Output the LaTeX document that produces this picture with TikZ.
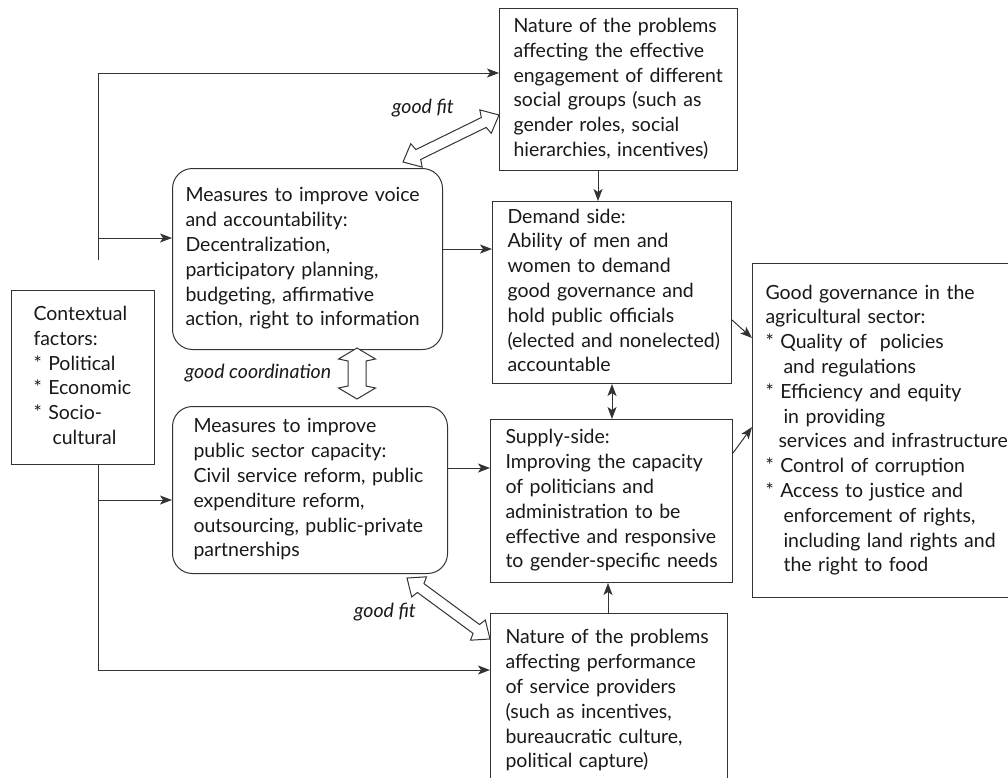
\documentclass[tikz,border=0pt]{standalone}
\usepackage{fontspec}
\setmainfont{Lato}
\usetikzlibrary{arrows.meta,calc}
\newcommand{\boxlines}[1]{\begin{tabular}{@{}l@{}}#1\end{tabular}}

\begin{document}
\begin{tikzpicture}[x=1pt,y=-1pt,
    every node/.style={font=\fontsize{19.5}{24.8}\selectfont, text=black!90},
    box/.style={draw=black!80, line width=1pt, anchor=north west, align=left, inner ysep=0pt},
    roundbox/.style={box, rounded corners=20pt},
    link/.style={draw=black!80, line width=1pt, -{Stealth[length=12pt,width=9pt,inset=3pt]}},
    hollow/.style={draw=black!80, line width=1pt, fill=white, line join=miter},
    fitlabel/.style={font=\fontsize{19.5}{24}\selectfont\itshape}]
\fill[white] (0,0) rectangle (1008,777);
\useasboundingbox (0,0) rectangle (1008,777);

% boxes
\node[box, inner xsep=22pt, text width=99pt, minimum height=174pt] (ctx) at (11,290)
  {\boxlines{Contextual\\factors:\\\relax* Political\\\relax* Economic\\\relax* Socio-\\\hspace*{19pt}cultural}};
\node[roundbox, inner xsep=13pt, text width=244pt, minimum height=181pt] (voice) at (172,168)
  {\boxlines{Measures to improve voice\\and accountability:\\Decentralization,\\participatory planning,\\budgeting, affirmative\\action, right to information}};
\node[roundbox, inner xsep=21pt, text width=233pt, minimum height=167pt] (public) at (172,406)
  {\boxlines{Measures to improve\\public sector capacity:\\Civil service reform, public\\expenditure reform,\\outsourcing, public-private\\partnerships}};
\node[box, inner xsep=14pt, text width=210pt, minimum height=162pt] (topnat) at (499,8)
  {\boxlines{Nature of the problems\\affecting the effective\\engagement of different\\social groups (such as\\gender roles, social\\hierarchies, incentives)}};
\node[box, inner xsep=15pt, text width=209pt, minimum height=182pt] (demand) at (492,201)
  {\boxlines{Demand side:\\Ability of men and\\women to demand\\good governance and\\hold public officials\\(elected and nonelected)\\accountable}};
\node[box, inner xsep=15pt, text width=212pt, minimum height=163pt] (supply) at (490,419)
  {\boxlines{Supply-side:\\Improving the capacity\\of politicians and\\administration to be\\effective and responsive\\to gender-specific needs}};
\node[box, inner xsep=15pt, inner ysep=13pt, text width=207pt] (botnat) at (490,613)
  {\boxlines{Nature of the problems\\affecting performance\\of service providers\\(such as incentives,\\bureaucratic culture,\\political capture)}};
\node[box, inner xsep=13pt, text width=254pt, minimum height=334pt] (gg) at (752,263)
  {\boxlines{Good governance in the\\agricultural sector:\\\relax* Quality of\ \ policies\\\hspace*{18pt}and regulations\\\relax* Efficiency and equity\\\hspace*{18pt}in providing\\\hspace*{13pt}services and infrastructure\\\relax* Control of corruption\\\relax* Access to justice and\\\hspace*{18pt}enforcement of rights,\\\hspace*{18pt}including land rights and\\\hspace*{18pt}the right to food}};

% labels
\node[fitlabel] (fittop) at (423,108) {good fit};
\node[fitlabel] (coordlab) at (258,373) {good coordination};
\node[fitlabel] (fitbot) at (385,612) {good fit};

% context lines
\coordinate (ctxup) at (98,260);
\coordinate (ctxdown) at ($(ctx.south west)+(87,0)$);
\draw[link] (ctxup) |- (topnat.west|-0,73);
\draw[link] (98,238) -- (voice.west|-0,238);
\draw[link] (ctxdown) |- (botnat.west|-0,670);
\draw[link] (98,500) -- (public.west|-0,500);

% main flow
\draw[link] (voice.east|-0,249) -- (demand.west|-0,249);
\draw[link] (public.east|-0,468) -- (supply.west|-0,468);
\draw[link] (topnat.south-|598,0) -- (demand.north-|598,0);
\draw[draw=black!80, line width=1pt, {Stealth[length=12pt,width=9pt,inset=3pt]}-{Stealth[length=12pt,width=9pt,inset=3pt]}] (demand.south-|612,0) -- (supply.north-|612,0);
\draw[link] (botnat.north-|608,0) -- (supply.south-|608,0);
\draw[link] (demand.east|-0,320) -- (gg.west|-0,338);
\draw[link] (supply.east|-0,453) -- (gg.west|-0,427);

% hollow double arrows
\coordinate (fa1) at (403,162);
\coordinate (fb1) at (topnat.west|-0,115);
\coordinate (ca) at (357,348);
\coordinate (cb) at (357,399);
\coordinate (fa2) at (407,578);
\coordinate (fb2) at (botnat.west|-0,639);
\foreach \a/\b/\hl/\hw/\sw in {fa1/fb1/15pt/13pt/5.5pt, ca/cb/11pt/18.5pt/9pt, fa2/fb2/15pt/12.5pt/5.5pt}
{
    \draw[hollow] (\a) -- ($(\a)!\hl!(\b)!\hw!90:(\b)$) -- ($(\a)!\hl+2pt!(\b)!\sw!90:(\b)$)
      -- ($(\b)!\hl+2pt!(\a)!\sw!-90:(\a)$) -- ($(\b)!\hl!(\a)!\hw!-90:(\a)$) -- (\b)
      -- ($(\b)!\hl!(\a)!\hw!90:(\a)$) -- ($(\b)!\hl+2pt!(\a)!\sw!90:(\a)$)
      -- ($(\a)!\hl+2pt!(\b)!\sw!-90:(\b)$) -- ($(\a)!\hl!(\b)!\hw!-90:(\b)$) -- cycle;
}
\end{tikzpicture}
\end{document}
